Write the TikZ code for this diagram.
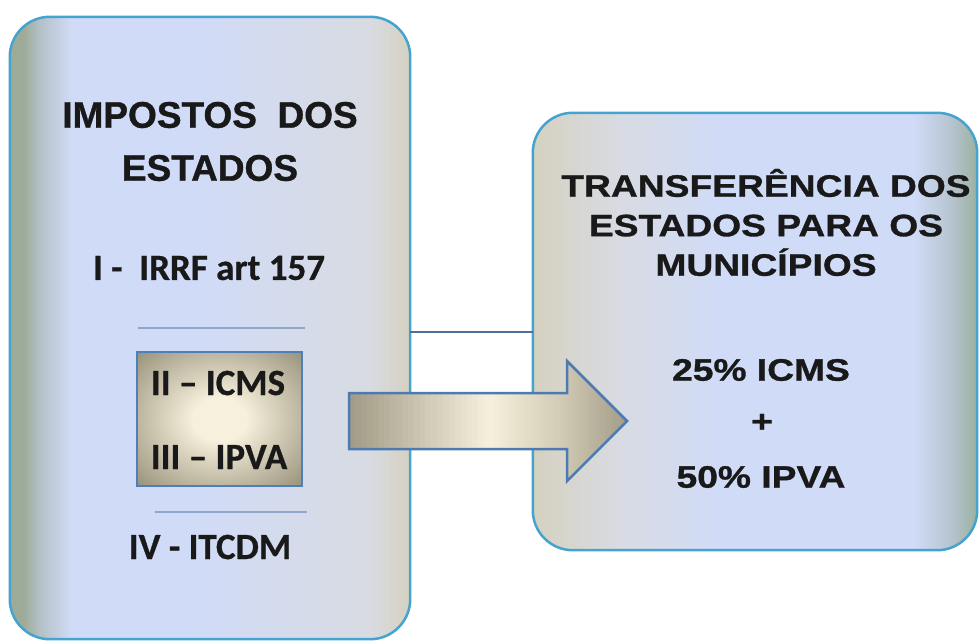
\documentclass[tikz,border=0pt]{standalone}
\usepackage{fontspec}
\usepackage{tikz}
\usepackage{xcolor}
\usetikzlibrary{positioning}
\setmainfont{Liberation Sans}[BoldFeatures={FakeBold=1}]
\newfontfamily\widesans{Liberation Sans}[FakeStretch=1.2, BoldFeatures={FakeBold=1}]
\newfontfamily\calsans{Carlito}[BoldFeatures={FakeBold=0.7}]

\definecolor{box-border}{HTML}{45A3CF}
\definecolor{link-line}{HTML}{4B6E9C}
\definecolor{sep-line}{HTML}{8EA7C9}
\definecolor{inner-border}{HTML}{4F7FB8}
\definecolor{arrow-border}{HTML}{4E7AB2}
\definecolor{lb-edge}{HTML}{9EAB98}
\definecolor{lb-soft}{HTML}{B4C0C6}
\definecolor{pale-blue}{HTML}{D0DBF7}
\definecolor{gray-mist}{HTML}{D8DBE2}
\definecolor{beige-gray}{HTML}{D5D1C0}
\definecolor{rb-soft}{HTML}{B7C5D2}
\definecolor{rb-edge}{HTML}{9AB09E}
\definecolor{cream}{HTML}{F6F0DC}
\definecolor{dun}{HTML}{9A937C}
\definecolor{arrow-dark}{HTML}{A09A85}
\definecolor{arrow-mid}{HTML}{D2CCB6}
\definecolor{arrow-tip}{HTML}{A39C88}

\pgfdeclareradialshading{inner-glow}{\pgfpoint{0bp}{0bp}}{color(0bp)=(cream); color(8bp)=(cream);
  color(35bp)=(dun); color(50bp)=(dun)}

% faixas verticais: x0, x1, y0, y1, cor inicial, cor final
\newcommand{\bandfill}[6]{%
  \foreach \k in {0,...,23}{%
    \pgfmathsetmacro{\xfrom}{#1+(#2-#1)*\k/24}%
    \pgfmathsetmacro{\xto}{#1+(#2-#1)*(\k+1)/24+0.6}%
    \pgfmathtruncatemacro{\share}{100-(\k+0.5)*100/24}%
    \fill[#5!\share!#6] (\xfrom,#3) rectangle (\xto,#4);
  }}

\tikzset{
    state-box/.style = {rectangle, inner sep=0pt},
    box-edge/.style = {draw=box-border, line width=2.5pt, rounded corners=40pt},
    inner-box/.style = {draw=inner-border, line width=2pt, rectangle, shade, shading=inner-glow,
        minimum width=165pt, minimum height=134pt, inner sep=0pt},
    head-text/.style = {font=\fontsize{37}{53}\selectfont\bfseries, text=black!90, align=center, inner sep=0pt},
    wide-text/.style = {font=\widesans\fontsize{31}{39.5}\selectfont\bfseries, text=black!90, align=center, inner sep=0pt},
    item-text/.style = {font=\calsans\fontsize{37}{44}\selectfont\bfseries, text=black!90, inner sep=0pt},
    sep/.style = {draw=sep-line, line width=1.5pt},
    link/.style = {draw=link-line, line width=2pt},
    arrow-edge/.style = {draw=arrow-border, line width=2.5pt, line join=miter},
}

\begin{document}
\begin{tikzpicture}[x=1pt, y=-1pt]
\fill[white] (0,0) rectangle (979,643);
\useasboundingbox (0,0) rectangle (979,643);

\node[state-box, minimum width=400pt, minimum height=622pt] (estados) at (210,328) {};
\node[state-box, minimum width=444pt, minimum height=437pt] (municipios) at (755,331.5) {};

% fundo da caixa da esquerda
\begin{scope}
  \clip[rounded corners=40pt] (estados.south west) rectangle (estados.north east);
  \fill[lb-edge] (0,0) rectangle (25,643);
  \bandfill{24}{40}{0}{643}{lb-edge}{lb-soft}
  \bandfill{40}{72}{0}{643}{lb-soft}{pale-blue}
  \fill[pale-blue] (71,0) rectangle (201,643);
  \bandfill{200}{370}{0}{643}{pale-blue}{gray-mist}
  \bandfill{370}{411}{0}{643}{gray-mist}{beige-gray}
\end{scope}
\draw[box-edge] (estados.south west) rectangle (estados.north east);

% fundo da caixa da direita
\begin{scope}
  \clip[rounded corners=40pt] (municipios.south west) rectangle (municipios.north east);
  \bandfill{532}{620}{100}{560}{beige-gray}{gray-mist}
  \bandfill{620}{720}{100}{560}{gray-mist}{pale-blue}
  \fill[pale-blue] (719,100) rectangle (916,560);
  \bandfill{915}{950}{100}{560}{pale-blue}{rb-soft}
  \bandfill{950}{979}{100}{560}{rb-soft}{rb-edge}
\end{scope}
\draw[box-edge] (municipios.south west) rectangle (municipios.north east);

% ligacao entre as caixas
\draw[link] (estados.east |- 0,332) -- (municipios.west |- 0,332);

% caixa da esquerda
\node[head-text] (titulo) at (210,141.5) {IMPOSTOS\ \ DOS\\ESTADOS};
\node[item-text] (irrf) at (209,268) {I -\ \ IRRF art 157};
\draw[sep] (138,328) -- (305,328);
\node[inner-box] (repasse) at (219.5,419) {};
\node[item-text] (icms) at (218,383) {II – ICMS};
\node[item-text] (ipva) at (219,457) {III – IPVA};
\draw[sep] (155,512) -- (307,512);
\node[item-text] (itcdm) at (210,547) {IV - ITCDM};

% seta
\begin{scope}
  \clip (349,393) -- (567,393) -- (567,361) -- (627,421) -- (567,481) -- (567,449) -- (349,449) -- cycle;
  \bandfill{349}{490}{350}{490}{arrow-dark}{cream}
  \bandfill{490}{560}{350}{490}{cream}{arrow-mid}
  \bandfill{560}{628}{350}{490}{arrow-mid}{arrow-tip}
\end{scope}
\draw[arrow-edge] (349,393) -- (567,393) -- (567,361) -- (627,421) -- (567,481) -- (567,449) -- (349,449) -- cycle;

% caixa da direita
\node[wide-text] (transf) at (766,222.5) {TRANSFERÊNCIA DOS\\ESTADOS PARA OS\\MUNICÍPIOS};
\node[wide-text] (pct-icms) at (761,370) {25\% ICMS};
\node[wide-text] (mais) at (762,423) {+};
\node[wide-text] (pct-ipva) at (761,477) {50\% IPVA};
\end{tikzpicture}
\end{document}
